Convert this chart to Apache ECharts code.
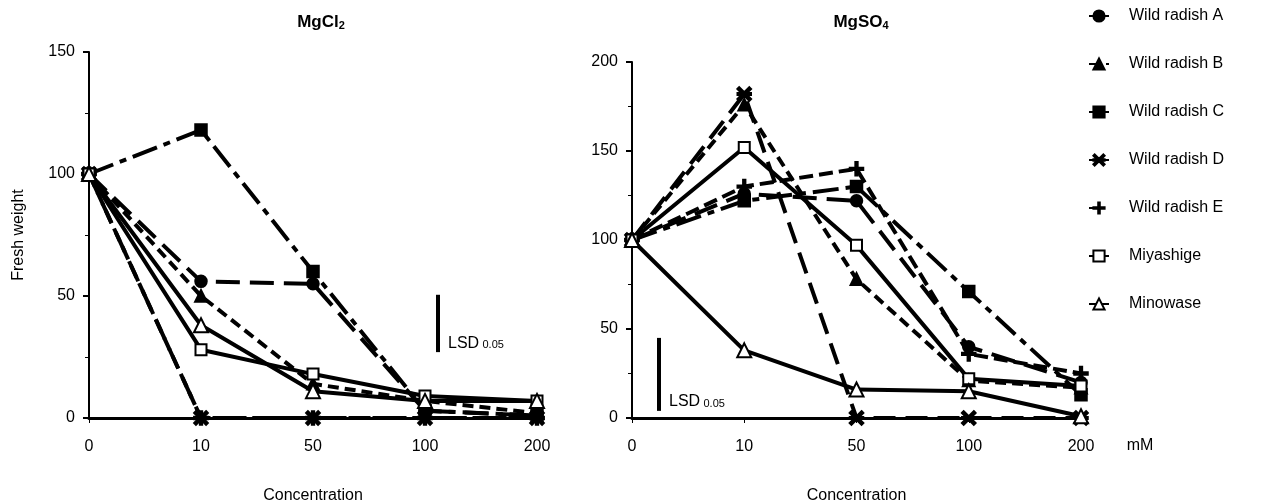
<!DOCTYPE html>
<html>
<head>
<meta charset="utf-8">
<script src="https://cdn.jsdelivr.net/npm/echarts@6/dist/echarts.min.js"></script>
<style>
  html, body { margin: 0; padding: 0; background: #fff; }
  #chart { width: 1264px; height: 501px; }
</style>
</head>
<body>
<div id="chart"></div>
<script>
// concentrations (mM)
const categories = ['0', '10', '50', '100', '200'];
const lineNames = ['Wild radish A', 'Wild radish B', 'Wild radish C', 'Wild radish D', 'Wild radish E', 'Miyashige', 'Minowase'];

// MgCl2 fresh weight
const mgcl2A = [100, 56, 55, 3, 1];
const mgcl2B = [100, 50, 14, 7, 2];
const mgcl2C = [100, 118, 60, 3, 1];
const mgcl2D = [100, 0, 0, 0, 0];
const mgcl2E = [100, 0, 0, 0, 0];
const mgcl2Miyashige = [100, 28, 18, 9, 7];
const mgcl2Minowase = [100, 38, 11, 7, 7];

// MgSO4 fresh weight
const mgso4A = [100, 126, 122, 40, 20];
const mgso4B = [100, 176, 78, 21, 17];
const mgso4C = [100, 122, 130, 71, 13];
const mgso4D = [100, 182, 0, 0, 0];
const mgso4E = [100, 130, 140, 36, 25];
const mgso4Miyashige = [100, 152, 97, 22, 18];
const mgso4Minowase = [100, 38, 16, 15, 1];

// LSD 0.05 bars [bottom, top] in y units
const lsdLeft = [27, 50.5];
const lsdRight = [4, 45];

const ASTERISK = 'path://M0,1.1L1.1,0L10,8.9L8.9,10Z M8.9,0L10,1.1L1.1,10L0,8.9Z M0,4.4H10V5.6H0Z';
const PLUS = 'path://M4.3,0H5.7V4.3H10V5.7H5.7V10H4.3V5.7H0V4.3H4.3Z';

const styles = [
  { symbol: 'circle', size: 11, dash: [24, 10] },
  { symbol: 'triangle', size: 11, dash: [11, 6] },
  { symbol: 'rect', size: 11, dash: [26, 7, 7, 7] },
  { symbol: ASTERISK, size: 13, dash: [22, 10] },
  { symbol: PLUS, size: 13, dash: [14, 6] },
  { symbol: 'emptyRect', size: 11, dash: 'solid' },
  { symbol: 'emptyTriangle', size: 14, dash: 'solid' }
];

const leftData = [mgcl2A, mgcl2B, mgcl2C, mgcl2D, mgcl2E, mgcl2Miyashige, mgcl2Minowase];
const rightData = [mgso4A, mgso4B, mgso4C, mgso4D, mgso4E, mgso4Miyashige, mgso4Minowase];

const font = 'Liberation Sans, Arial, sans-serif';

function makeSeries(dataSets, idx) {
  return dataSets.map((d, i) => ({
    name: lineNames[i],
    type: 'line',
    xAxisIndex: idx,
    yAxisIndex: idx,
    data: d,
    symbol: styles[i].symbol,
    symbolSize: styles[i].size,
    z: styles[i].dash === 'solid' ? 4 : 3,
    lineStyle: { color: '#000', width: 4, type: styles[i].dash },
    itemStyle: { color: '#000', borderColor: '#000', borderWidth: 2.5 },
    emphasis: { disabled: true },
    animation: false
  }));
}

const xAxisBase = {
  type: 'category',
  data: categories,
  boundaryGap: false,
  axisLine: { lineStyle: { color: '#000', width: 3 } },
  axisTick: { show: true, length: 5, lineStyle: { color: '#000', width: 1 } },
  axisLabel: { color: '#000', fontSize: 16, fontFamily: font, margin: 21 },
  name: 'Concentration',
  nameLocation: 'middle',
  nameGap: 70,
  nameTextStyle: { color: '#000', fontSize: 16, fontFamily: font }
};

const yAxisBase = {
  type: 'value',
  min: 0,
  interval: 50,
  splitLine: { show: false },
  axisLine: { show: true, lineStyle: { color: '#000', width: 2 } },
  axisTick: { show: true, length: 6, lineStyle: { color: '#000', width: 2 } },
  minorTick: { show: true, splitNumber: 2, length: 4, lineStyle: { color: '#000', width: 1 } },
  axisLabel: { color: '#000', fontSize: 16, fontFamily: font, margin: 14 }
};

const titleRich = {
  b: { fontSize: 17, fontWeight: 'bold', color: '#000', fontFamily: font },
  s: { fontSize: 11, fontWeight: 'bold', color: '#000', fontFamily: font, padding: [6, 0, 0, 0] }
};

const chart = echarts.init(document.getElementById('chart'));
chart.setOption({
  animation: false,
  backgroundColor: '#fff',
  title: [
    { text: '{b|MgCl}{s|2}', left: 316, top: 9, textAlign: 'center', textStyle: { rich: titleRich } },
    { text: '{b|MgSO}{s|4}', left: 856, top: 9, textAlign: 'center', textStyle: { rich: titleRich } }
  ],
  legend: {
    orient: 'vertical',
    left: 1083,
    top: 3,
    itemWidth: 20,
    itemHeight: 14,
    itemGap: 32,
    data: lineNames,
    textStyle: { color: '#000', fontSize: 16, fontFamily: font, padding: [0, 0, 0, 15] },
    selectedMode: false
  },
  grid: [
    { left: 89, top: 52, width: 448, height: 366, outerBoundsMode: 'none', containLabel: false },
    { left: 632, top: 62, width: 449, height: 356, outerBoundsMode: 'none', containLabel: false }
  ],
  xAxis: [
    Object.assign({}, xAxisBase, { gridIndex: 0 }),
    Object.assign({}, xAxisBase, { gridIndex: 1 })
  ],
  yAxis: [
    Object.assign({}, yAxisBase, {
      gridIndex: 0, max: 150,
      name: 'Fresh weight', nameLocation: 'middle', nameGap: 62, nameRotate: 90,
      nameTextStyle: { color: '#000', fontSize: 16, fontFamily: font }
    }),
    Object.assign({}, yAxisBase, { gridIndex: 1, max: 200 })
  ],
  series: makeSeries(leftData, 0).concat(makeSeries(rightData, 1))
});

// annotations: LSD bars and unit label, placed through the axes
function lsdGraphic(gridIndex, xPix, range) {
  const yTop = chart.convertToPixel({ yAxisIndex: gridIndex }, range[1]);
  const yBot = chart.convertToPixel({ yAxisIndex: gridIndex }, range[0]);
  return [
    { type: 'rect', shape: { x: xPix - 2, y: yTop, width: 4, height: yBot - yTop }, style: { fill: '#000' } },
    {
      type: 'text', x: xPix + 10, y: yBot - 1,
      style: {
        text: '{a|LSD} {b|0.05}', verticalAlign: 'bottom',
        rich: {
          a: { fontSize: 16, fontFamily: font, fill: '#000' },
          b: { fontSize: 11, fontFamily: font, fill: '#000', padding: [4, 0, 0, 0] }
        }
      }
    }
  ];
}

const xRightEnd = chart.convertToPixel({ xAxisIndex: 1 }, '200');
const yZero = chart.convertToPixel({ yAxisIndex: 1 }, 0);
chart.setOption({
  graphic: lsdGraphic(0, 438, lsdLeft).concat(lsdGraphic(1, 659, lsdRight)).concat([
    { type: 'text', x: xRightEnd + 59, y: yZero + 28, style: { text: 'mM', fontSize: 16, fontFamily: font, fill: '#000', verticalAlign: 'middle', align: 'center' } }
  ])
});

window.addEventListener('resize', () => chart.resize());
</script>
</body>
</html>
